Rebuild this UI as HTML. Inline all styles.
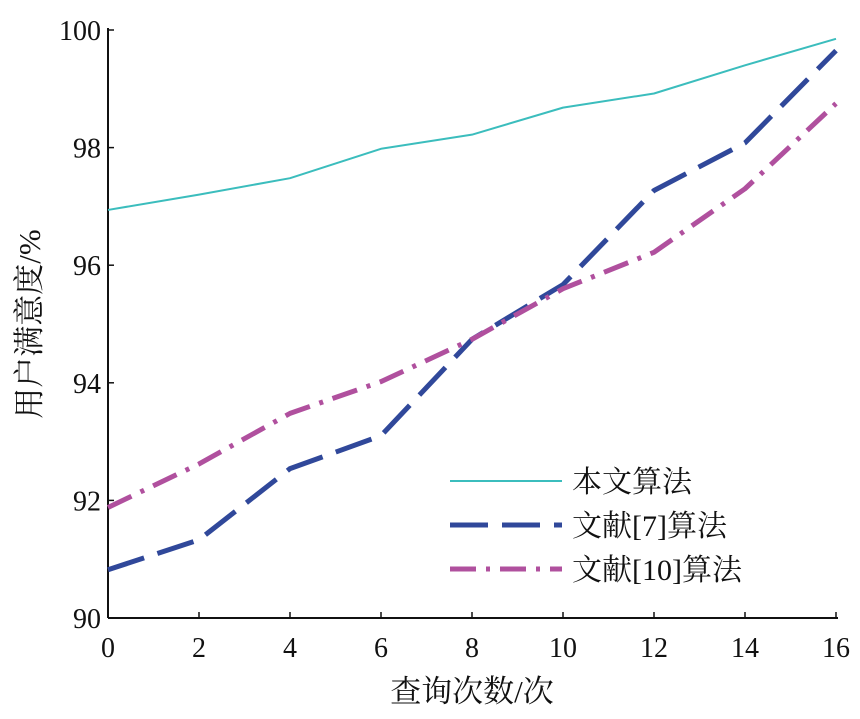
<!DOCTYPE html>
<html><head><meta charset="utf-8"><style>
html,body{margin:0;padding:0;background:#fff;width:860px;height:719px;overflow:hidden}
svg text{font-family:"Liberation Serif","Noto Serif CJK SC","Noto Sans CJK SC",serif;fill:#111}
</style></head><body>
<svg id="chart" width="860" height="719" xmlns="http://www.w3.org/2000/svg"></svg>
<script>
const categories=[0,2,4,6,8,10,12,14,16];
const seriesOurs=[96.94,97.2,97.48,97.98,98.22,98.68,98.92,99.4,99.85];
const seriesRef7=[90.82,91.33,92.54,93.1,94.74,95.67,97.27,98.08,99.65];
const seriesRef10=[91.88,92.62,93.48,94.02,94.74,95.6,96.22,97.3,98.75];
const xTicks=[0,2,4,6,8,10,12,14,16];
const yTicks=[90,92,94,96,98,100];
const NS="http://www.w3.org/2000/svg";
const svg=document.getElementById('chart');
const X0=108,X1=836,Y0=618,Y1=30;
const xs=v=>X0+(v-0)/(16-0)*(X1-X0);
const ys=v=>Y0-(v-90)/(100-90)*(Y0-Y1);
function mk(t,a){const e=document.createElementNS(NS,t);for(const k in a)e.setAttribute(k,a[k]);svg.appendChild(e);return e;}
let e;
e=mk('line',{x1:X0,y1:Y1-2,x2:X0,y2:Y0,stroke:'#111','stroke-width':2});


e=mk('line',{x1:X0,y1:Y0,x2:X1+2,y2:Y0,stroke:'#111','stroke-width':2});


xTicks.forEach(t=>{
 e=mk('line',{x1:xs(t),y1:Y0,x2:xs(t),y2:Y0-6,stroke:'#111','stroke-width':1.5});
 
 
 e=mk('text',{x:xs(t),y:Y0+39,'text-anchor':'middle','font-size':28});
 e.textContent=t;
 
 
});
yTicks.forEach(t=>{
 e=mk('line',{x1:X0,y1:ys(t),x2:X0+6,y2:ys(t),stroke:'#111','stroke-width':1.5});
 
 
 e=mk('text',{x:X0-7,y:ys(t)+10,'text-anchor':'end','font-size':28});
 e.textContent=t;
 
 
});
e=mk('text',{x:472,y:702,'text-anchor':'middle','font-size':31});
e.textContent='查询次数/次';


e=mk('text',{x:0,y:0,'text-anchor':'middle','font-size':31,transform:'translate(40,324) rotate(-90)'});
e.textContent='用户满意度/%';


function line(data,color,w,dash,name){
 const p=data.map((v,i)=>xs(categories[i])+','+ys(v)).join(' ');
 const l=mk('polyline',{points:p,fill:'none',stroke:color,'stroke-width':w,'stroke-dasharray':dash,'stroke-linejoin':'round'});
 
 
}
line(seriesOurs,'#3bbdbd',2,'','line-ours');
line(seriesRef7,'#30489a',5,'38,14','line-ref7');
line(seriesRef10,'#b0509e',5,'26,10,4,10','line-ref10');
const legend=[['本文算法','#3bbdbd',2,''],['文献[7]算法','#30489a',5,'38,14'],['文献[10]算法','#b0509e',5,'26,10,4,10']];
legend.forEach((L,i)=>{
 const y=481+i*44;
 e=mk('line',{x1:450,y1:y,x2:562,y2:y,stroke:L[1],'stroke-width':L[2],'stroke-dasharray':L[3]});
 
 
 e=mk('text',{x:572,y:y+11,'font-size':30});
 e.textContent=L[0];
 
 
});
</script>
</body></html>
